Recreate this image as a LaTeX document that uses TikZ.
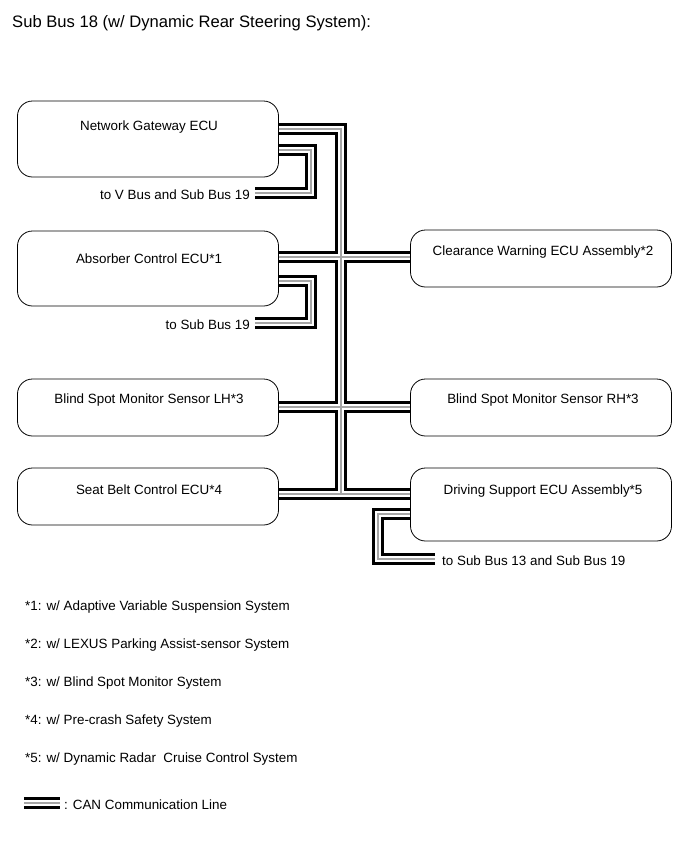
\documentclass[tikz,border=0pt]{standalone}
\usepackage{fontspec}
\setmainfont{Liberation Sans}
\begin{document}
\begin{tikzpicture}[x=1pt,y=1pt,
  ecu/.style={draw, rounded corners=15pt, line width=0.8pt, minimum width=261pt, inner sep=0pt},
  lbl/.style={font=\fontsize{13.4}{15}\selectfont, inner sep=0pt, yshift=-1.5pt},
  busblack/.style={line width=11.5pt, draw=black},
  buswhite/.style={line width=5.5pt, draw=white},
  busgray/.style={line width=1.2pt, draw=gray!70},
]
\useasboundingbox (0,0) rectangle (690,-854);
\fill[white] (0,0) rectangle (690,-854);

\node[lbl, anchor=west, font=\fontsize{16.6}{19}\selectfont] (title) at (12,-22) {Sub Bus 18 (w/ Dynamic Rear Steering System):};

% boxes
\node[ecu, minimum height=76pt] (ngw) at (148,-139) {};
\node[ecu, minimum height=75pt] (abs) at (148,-268.5) {};
\node[ecu, minimum height=57pt] (cw)  at (541,-258.5) {};
\node[ecu, minimum height=57pt] (bsl) at (148,-407.5) {};
\node[ecu, minimum height=57pt] (bsr) at (541,-407.5) {};
\node[ecu, minimum height=57pt] (sb)  at (148,-496.5) {};
\node[ecu, minimum height=73pt] (ds)  at (541,-504.5) {};

\node[lbl] (ngwt) at (149,-126) {Network Gateway ECU};
\node[lbl] (abst) at (149,-257) {Absorber Control ECU*1};
\node[lbl] (cwt)  at (543,-251) {Clearance Warning ECU Assembly*2};
\node[lbl] (bslt) at (149,-399) {Blind Spot Monitor Sensor LH*3};
\node[lbl] (bsrt) at (543,-399) {Blind Spot Monitor Sensor RH*3};
\node[lbl] (sbt)  at (149,-488) {Seat Belt Control ECU*4};
\node[lbl] (dst)  at (543,-490) {Driving Support ECU Assembly*5};

% bus coordinates
\coordinate (tTop) at (341,-129);
\coordinate (tBot) at (341,-494);
\coordinate (l1a) at (311,-150);
\coordinate (l1b) at (311,-193);
\coordinate (l1e) at (255,-193);
\coordinate (l2a) at (311,-281);
\coordinate (l2b) at (311,-323);
\coordinate (l2e) at (255,-323);
\coordinate (l3a) at (378,-514);
\coordinate (l3b) at (378,-559);
\coordinate (l3e) at (435,-559);
\coordinate (legA) at (24,-803);
\coordinate (legB) at (60,-803);

\foreach \st in {busblack,buswhite,busgray}{
  \draw[\st] (ngw.east |- tTop) -- (tTop) -- (tBot);
  \draw[\st] (abs.east |- 0,-257) -- (cw.west |- 0,-257);
  \draw[\st] (bsl.east |- 0,-407) -- (bsr.west |- 0,-407);
  \draw[\st] (sb.east |- tBot) -- (ds.west |- tBot);
  \draw[\st] (ngw.east |- l1a) -- (l1a) -- (l1b) -- (l1e);
  \draw[\st] (abs.east |- l2a) -- (l2a) -- (l2b) -- (l2e);
  \draw[\st] (ds.west |- l3a) -- (l3a) -- (l3b) -- (l3e);
  \draw[\st] (legA) -- (legB);
}

\node[lbl, anchor=east] (t1) at ([xshift=-5pt]l1e) {to V Bus and Sub Bus 19};
\node[lbl, anchor=east] (t2) at ([xshift=-5pt]l2e) {to Sub Bus 19};
\node[lbl, anchor=west] (t3) at ([xshift=7pt]l3e) {to Sub Bus 13 and Sub Bus 19};

\node[lbl, anchor=west] (f1) at (25,-606) {*1: w/ Adaptive Variable Suspension System};
\node[lbl, anchor=west] (f2) at (25,-644) {*2: w/ LEXUS Parking Assist-sensor System};
\node[lbl, anchor=west] (f3) at (25,-682) {*3: w/ Blind Spot Monitor System};
\node[lbl, anchor=west] (f4) at (25,-720) {*4: w/ Pre-crash Safety System};
\node[lbl, anchor=west] (f5) at (25,-758) {*5: w/ Dynamic Radar\ \ Cruise Control System};
\node[lbl, anchor=west] (leg) at ([xshift=4pt]legB) {: CAN Communication Line};
\end{tikzpicture}
\end{document}
